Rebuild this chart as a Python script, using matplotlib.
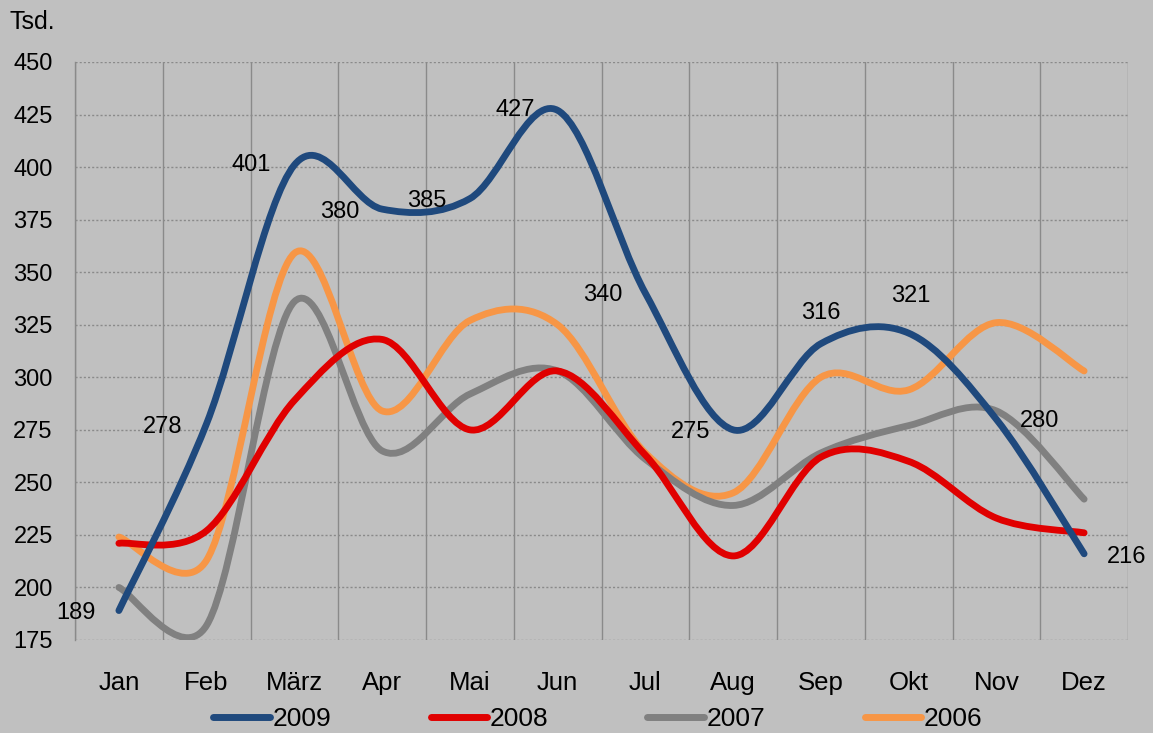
import numpy as np
import matplotlib
matplotlib.use("Agg")
import matplotlib.pyplot as plt
from matplotlib.path import Path
from matplotlib.patches import PathPatch
from matplotlib.lines import Line2D
from matplotlib.ticker import FixedLocator

# Monthly values (thousands)
months = ["Jan", "Feb", "März", "Apr", "Mai", "Jun", "Jul", "Aug", "Sep", "Okt", "Nov", "Dez"]
y2009 = [189, 278, 401, 380, 385, 427, 340, 275, 316, 321, 280, 216]
y2008 = [221, 227, 289, 318, 275, 303, 263, 215, 262, 260, 233, 226]
y2007 = [200, 182, 336, 265, 292, 303, 261, 239, 264, 277, 284, 242]
y2006 = [224, 213, 359, 284, 327, 325, 264, 245, 300, 294, 326, 303]
series_names = ["2009", "2008", "2007", "2006"]
series_values = [y2009, y2008, y2007, y2006]
series_colors = ["#1F497D", "#E00000", "#808080", "#F79646"]
y_ticks = [175, 200, 225, 250, 275, 300, 325, 350, 375, 400, 425, 450]

# label placement for 2009 values: offsets in pixels from the point
label_offsets = [(-43, -2), (-44, -3), (-43, 0), (-42, -3), (-43, -2), (-42, 0),
                 (-43, -2), (-43, -2), (0, 31), (2, 37), (43, -2), (43, -3)]

BG = "#C0C0C0"
GRID = "#8A8A8A"
FONT = ["Liberation Sans", "DejaVu Sans"]
plt.rcParams["font.family"] = FONT

W, H = 1153, 733
fig = plt.figure(figsize=(W / 100, H / 100), dpi=100, facecolor=BG)
ax = fig.add_axes([75 / W, 1 - 640 / H, (1128 - 75) / W, (640 - 62) / H])
ax.set_facecolor(BG)
ax.set_xlim(-0.5, len(months) - 0.5)
ax.set_ylim(175, 450)


def smooth_path(xs, ys, ax):
    """Cubic Bezier through all points, with control lengths limited
    relative to the segment length (measured on screen) to curb overshoot."""
    pts = np.column_stack([xs, ys]).astype(float)
    scr = ax.transData.transform(pts)
    n = len(pts)
    verts = [pts[0]]
    codes = [Path.MOVETO]
    for i in range(n - 1):
        i0 = max(i - 1, 0)
        i3 = min(i + 2, n - 1)
        p0, p1, p2, p3 = pts[i0], pts[i], pts[i + 1], pts[i3]
        s0, s1, s2, s3 = scr[i0], scr[i], scr[i + 1], scr[i3]
        d12 = np.hypot(*(s2 - s1))
        d02 = np.hypot(*(s2 - s0))
        d13 = np.hypot(*(s3 - s1))
        f1 = 1 / 6
        f2 = 1 / 6
        if d02 / 6 >= d12 / 2 and d02 > 0:
            f1 = d12 / 2 / d02
        if d13 / 6 >= d12 / 2 and d13 > 0:
            f2 = d12 / 2 / d13
        c1 = p1 + (p2 - p0) * f1
        c2 = p2 - (p3 - p1) * f2
        verts += [c1, c2, p2]
        codes += [Path.CURVE4] * 3
    return Path(np.array(verts), codes)


x = np.arange(len(months))
# draw oldest first so 2009 sits on top
for name, vals, col in reversed(list(zip(series_names, series_values, series_colors))):
    patch = PathPatch(smooth_path(x, vals, ax), facecolor="none", edgecolor=col,
                      lw=4.9, capstyle="round", joinstyle="round", zorder=3)
    ax.add_patch(patch)

for xi, v, off in zip(x, y2009, label_offsets):
    ax.annotate(str(v), (xi, v), xytext=off, textcoords="offset pixels",
                ha="center", va="center", fontsize=17, color="black", zorder=5)

ax.set_yticks(y_ticks)
ax.set_yticklabels([str(t) for t in y_ticks], fontsize=17)
ax.set_xticks(x)
ax.set_xticklabels(months, fontsize=18.5)
ax.xaxis.set_minor_locator(FixedLocator(np.arange(-0.5, len(months), 1.0)))
ax.tick_params(axis="both", which="both", length=0)
ax.tick_params(axis="y", pad=16)
ax.tick_params(axis="x", pad=22)

ax.grid(axis="y", which="major", color=GRID, lw=1.0, linestyle=(0, (1.5, 1.5)), zorder=1)
ax.grid(axis="x", which="minor", color=GRID, lw=1.0, linestyle="-", zorder=1)
ax.grid(axis="x", which="major", visible=False)
for s in ["top", "right", "bottom"]:
    ax.spines[s].set_visible(False)
ax.spines["left"].set_color(GRID)
ax.spines["left"].set_linewidth(1.0)

fig.text(10 / W, 1 - 22 / H, "Tsd.", fontsize=18, ha="left", va="center")

handles = [Line2D([], [], color=c, lw=5, solid_capstyle="round") for c in series_colors]
fig.legend(handles, series_names, loc="center", bbox_to_anchor=(598 / W, 1 - 719 / H),
           ncol=4, frameon=False, fontsize=19, handlelength=2.15, handletextpad=0.1,
           columnspacing=3.75, borderpad=0, borderaxespad=0)

fig.savefig("out.png", dpi=100, facecolor=BG)
